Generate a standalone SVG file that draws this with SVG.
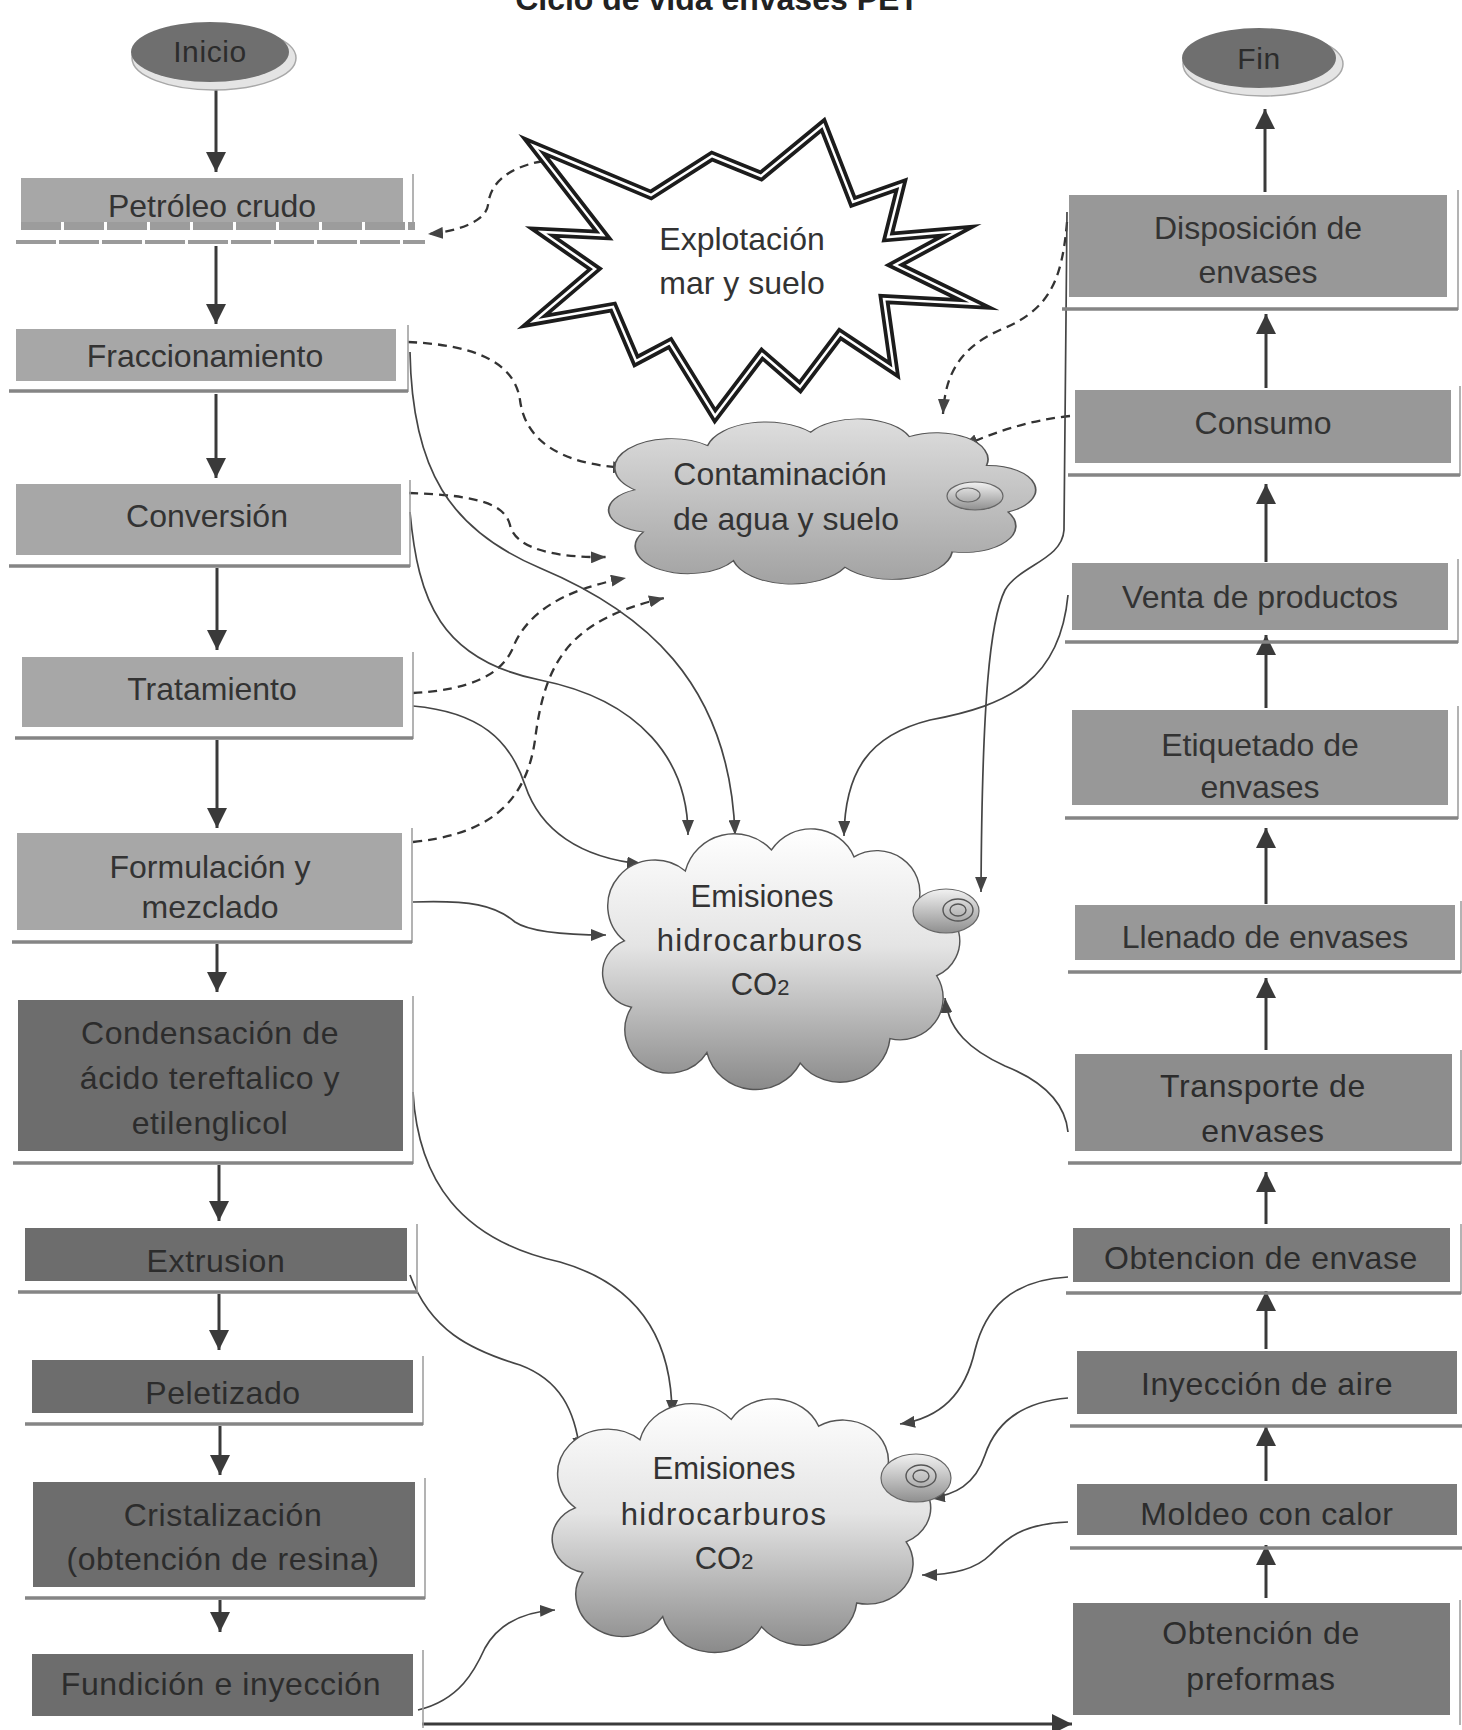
<svg xmlns="http://www.w3.org/2000/svg" xmlns:xlink="http://www.w3.org/1999/xlink" width="1462" height="1730" viewBox="0 0 1462 1730">
<style>
.t{font-family:"Liberation Sans",Arial,sans-serif;font-size:32px;fill:#333;text-anchor:middle}
.tk{font-family:"Liberation Sans",Arial,sans-serif;font-size:32px;fill:#2c2c2c;text-anchor:middle;letter-spacing:0.6px}
.bl{fill:#a7a7a7}
.bd{fill:#6d6d6d}
.bm{fill:#989898}
.br{fill:#7b7b7b}
.shb{stroke:#858585;stroke-width:3.5;fill:none}
.shv{stroke:#a0a0a0;stroke-width:1.6;fill:none}
.arr{stroke:#3a3a3a;stroke-width:3;fill:none}
.cs{stroke:#454545;stroke-width:1.7;fill:none}
.cd{stroke:#333;stroke-width:2.3;fill:none;stroke-dasharray:9 6}
</style>
<defs>
<marker id="big" viewBox="0 0 20 20" refX="20" refY="10" markerWidth="20" markerHeight="20" markerUnits="userSpaceOnUse" orient="auto"><path d="M0,0 L20,10 L0,20 z" fill="#3a3a3a"/></marker>
<marker id="sm" viewBox="0 0 15 12" refX="15" refY="6" markerWidth="15" markerHeight="12" markerUnits="userSpaceOnUse" orient="auto"><path d="M0,0 L15,6 L0,12 z" fill="#444"/></marker>
<linearGradient id="gEm" x1="0" y1="0" x2="0" y2="1"><stop offset="0" stop-color="#ffffff"/><stop offset="0.45" stop-color="#e4e4e4"/><stop offset="1" stop-color="#8a8a8a"/></linearGradient>
<linearGradient id="gCo" x1="0" y1="0" x2="0" y2="1"><stop offset="0" stop-color="#dedede"/><stop offset="1" stop-color="#a2a2a2"/></linearGradient>
<linearGradient id="gBub" x1="0" y1="0" x2="0" y2="1"><stop offset="0" stop-color="#f2f2f2"/><stop offset="1" stop-color="#8f8f8f"/></linearGradient>
<path id="cloud" d="M14,62 A24,24 0 0 1 48,22 A28,28 0 0 1 96,10 A26,26 0 0 1 142,14 A24,24 0 0 1 178,40 A22,22 0 0 1 188,82 A24,24 0 0 1 162,118 A28,28 0 0 1 112,132 A28,28 0 0 1 60,126 A24,24 0 0 1 18,100 A20,20 0 0 1 14,62 Z"/>
</defs>
<rect width="1462" height="1730" fill="#ffffff"/>
<text x="717" y="10" class="t" style="font-weight:bold;font-size:32px;fill:#222">Ciclo de vida envases PET</text>

<g id="connectors">
<line class="arr" x1="216" y1="88" x2="216" y2="172" marker-end="url(#big)"/>
<line class="arr" x1="216" y1="246" x2="216" y2="324" marker-end="url(#big)"/>
<line class="arr" x1="216" y1="394" x2="216" y2="478" marker-end="url(#big)"/>
<line class="arr" x1="217" y1="568" x2="217" y2="650" marker-end="url(#big)"/>
<line class="arr" x1="217" y1="740" x2="217" y2="828" marker-end="url(#big)"/>
<line class="arr" x1="217" y1="944" x2="217" y2="992" marker-end="url(#big)"/>
<line class="arr" x1="219" y1="1165" x2="219" y2="1221" marker-end="url(#big)"/>
<line class="arr" x1="219" y1="1294" x2="219" y2="1350" marker-end="url(#big)"/>
<line class="arr" x1="220" y1="1426" x2="220" y2="1475" marker-end="url(#big)"/>
<line class="arr" x1="220" y1="1600" x2="220" y2="1632" marker-end="url(#big)"/>
<line class="arr" x1="1266" y1="1598" x2="1266" y2="1545" marker-end="url(#big)"/>
<line class="arr" x1="1266" y1="1481" x2="1266" y2="1426" marker-end="url(#big)"/>
<line class="arr" x1="1266" y1="1349" x2="1266" y2="1291" marker-end="url(#big)"/>
<line class="arr" x1="1266" y1="1224" x2="1266" y2="1172" marker-end="url(#big)"/>
<line class="arr" x1="1266" y1="1050" x2="1266" y2="978" marker-end="url(#big)"/>
<line class="arr" x1="1266" y1="904" x2="1266" y2="828" marker-end="url(#big)"/>
<line class="arr" x1="1266" y1="708" x2="1266" y2="635" marker-end="url(#big)"/>
<line class="arr" x1="1266" y1="562" x2="1266" y2="484" marker-end="url(#big)"/>
<line class="arr" x1="1266" y1="388" x2="1266" y2="314" marker-end="url(#big)"/>
<line class="arr" x1="1265" y1="192" x2="1265" y2="109" marker-end="url(#big)"/>
<line class="arr" x1="422" y1="1724" x2="1072" y2="1724" marker-end="url(#big)"/>

<path class="cd" d="M 543 161 C 505 168, 490 185, 488 205 C 486 222, 455 232, 428 234" marker-end="url(#sm)"/>
<path class="cd" d="M 408 342 C 480 345, 515 365, 520 400 C 525 440, 560 465, 628 468" marker-end="url(#sm)"/>
<path class="cd" d="M 409 493 C 480 495, 505 505, 510 525 C 515 550, 560 558, 606 557" marker-end="url(#sm)"/>
<path class="cd" d="M 413 693 C 470 690, 500 675, 512 650 C 525 615, 560 590, 626 578" marker-end="url(#sm)"/>
<path class="cd" d="M 413 842 C 480 835, 525 810, 535 740 C 545 660, 570 620, 664 598" marker-end="url(#sm)"/>
<path class="cd" d="M 1067 222 C 1062 280, 1050 310, 1000 330 C 955 350, 945 380, 943 414" marker-end="url(#sm)"/>
<path class="cd" d="M 1070 416 C 1030 420, 995 432, 963 446" marker-end="url(#sm)"/>

<path class="cs" d="M 410 352 C 412 470, 450 530, 540 568 C 640 610, 730 680, 735 835" marker-end="url(#sm)"/>
<path class="cs" d="M 410 512 C 418 600, 440 660, 540 680 C 640 700, 688 760, 688 835" marker-end="url(#sm)"/>
<path class="cs" d="M 413 706 C 480 712, 510 740, 525 785 C 540 830, 580 858, 642 864" marker-end="url(#sm)"/>
<path class="cs" d="M 413 902 C 470 900, 495 905, 515 922 C 530 932, 570 935, 606 935" marker-end="url(#sm)"/>
<path class="cs" d="M 1067 212 L 1064 530 C 1062 560, 1020 565, 1005 590 C 990 620, 982 700, 981 892" marker-end="url(#sm)"/>
<path class="cs" d="M 1068 595 C 1060 680, 1010 705, 930 720 C 870 735, 845 770, 844 836" marker-end="url(#sm)"/>
<path class="cs" d="M 1068 1132 C 1065 1100, 1040 1080, 1005 1066 C 970 1050, 948 1030, 945 998" marker-end="url(#sm)"/>
<path class="cs" d="M 413 1092 C 418 1180, 460 1240, 560 1262 C 640 1285, 672 1340, 672 1415" marker-end="url(#sm)"/>
<path class="cs" d="M 410 1275 C 430 1330, 470 1350, 520 1365 C 560 1380, 575 1410, 580 1452" marker-end="url(#sm)"/>
<path class="cs" d="M 418 1710 C 460 1700, 475 1670, 485 1648 C 498 1625, 520 1612, 555 1610" marker-end="url(#sm)"/>
<path class="cs" d="M 1068 1277 C 1010 1280, 985 1310, 975 1350 C 965 1395, 940 1418, 900 1424" marker-end="url(#sm)"/>
<path class="cs" d="M 1068 1398 C 1020 1402, 995 1425, 985 1455 C 975 1485, 955 1495, 930 1498" marker-end="url(#sm)"/>
<path class="cs" d="M 1068 1522 C 1020 1524, 1005 1540, 990 1555 C 975 1570, 950 1575, 922 1575" marker-end="url(#sm)"/>
</g>

<g id="inicio">
<ellipse cx="214" cy="58" rx="82" ry="32" fill="#e4e4e4" stroke="#a8a8a8" stroke-width="1.5"/>
<ellipse cx="210" cy="52" rx="79" ry="30" fill="#6f6f6f"/>
<text x="210" y="62" class="tk" style="font-size:30px">Inicio</text>
</g>
<g id="fin">
<ellipse cx="1263" cy="64" rx="80" ry="32" fill="#e4e4e4" stroke="#a8a8a8" stroke-width="1.5"/>
<ellipse cx="1259" cy="58" rx="77" ry="30" fill="#6f6f6f"/>
<text x="1259" y="69" class="tk" style="font-size:30px">Fin</text>
</g>

<g id="petroleo">
<line class="shv" x1="413" y1="174" x2="413" y2="230"/>
<rect class="bl" x="21" y="178" width="382" height="44"/>
<line x1="21" y1="226" x2="415" y2="226" stroke="#9c9c9c" stroke-width="8" stroke-dasharray="40 3"/>
<line x1="16" y1="242" x2="425" y2="242" stroke="#9a9a9a" stroke-width="4" stroke-dasharray="40 3"/>
<text x="212" y="217" class="t">Petróleo crudo</text>
</g>
<g id="fraccionamiento">
<line class="shv" x1="408" y1="325" x2="408" y2="392"/>
<line class="shb" x1="9" y1="391" x2="408" y2="391"/>
<rect class="bl" x="16" y="329" width="380" height="52"/>
<text x="205" y="367" class="t">Fraccionamiento</text>
</g>
<g id="conversion">
<line class="shv" x1="410" y1="480" x2="410" y2="567"/>
<line class="shb" x1="9" y1="566" x2="410" y2="566"/>
<rect class="bl" x="16" y="484" width="385" height="71"/>
<text x="207" y="527" class="t">Conversión</text>
</g>
<g id="tratamiento">
<line class="shv" x1="413" y1="652" x2="413" y2="739"/>
<line class="shb" x1="15" y1="738" x2="413" y2="738"/>
<rect class="bl" x="22" y="657" width="381" height="70"/>
<text x="212" y="700" class="t">Tratamiento</text>
</g>
<g id="formulacion">
<line class="shv" x1="412" y1="828" x2="412" y2="943"/>
<line class="shb" x1="12" y1="942" x2="412" y2="942"/>
<rect class="bl" x="17" y="833" width="385" height="97"/>
<text x="210" y="878" class="t">Formulación y</text>
<text x="210" y="918" class="t">mezclado</text>
</g>
<g id="condensacion">
<line class="shv" x1="413" y1="996" x2="413" y2="1164"/>
<line class="shb" x1="13" y1="1163" x2="413" y2="1163"/>
<rect class="bd" x="18" y="1000" width="385" height="151"/>
<text x="210" y="1044" class="tk">Condensación de</text>
<text x="210" y="1089" class="tk">ácido tereftalico y</text>
<text x="210" y="1134" class="tk">etilenglicol</text>
</g>
<g id="extrusion">
<line class="shv" x1="417" y1="1224" x2="417" y2="1293"/>
<line class="shb" x1="18" y1="1292" x2="417" y2="1292"/>
<rect class="bd" x="25" y="1228" width="382" height="53"/>
<text x="216" y="1272" class="tk">Extrusion</text>
</g>
<g id="peletizado">
<line class="shv" x1="423" y1="1356" x2="423" y2="1425"/>
<line class="shb" x1="25" y1="1424" x2="423" y2="1424"/>
<rect class="bd" x="32" y="1360" width="381" height="53"/>
<text x="223" y="1404" class="tk">Peletizado</text>
</g>
<g id="cristalizacion">
<line class="shv" x1="425" y1="1478" x2="425" y2="1599"/>
<line class="shb" x1="25" y1="1598" x2="425" y2="1598"/>
<rect class="bd" x="33" y="1482" width="382" height="105"/>
<text x="223" y="1526" class="tk">Cristalización</text>
<text x="223" y="1570" class="tk">(obtención de resina)</text>
</g>
<g id="fundicion">
<line class="shv" x1="423" y1="1650" x2="423" y2="1728"/>
<rect class="bd" x="32" y="1654" width="381" height="62"/>
<text x="221" y="1695" class="tk">Fundición e inyección</text>
</g>

<g id="disposicion">
<line class="shv" x1="1458" y1="190" x2="1458" y2="310"/>
<line class="shb" x1="1062" y1="309" x2="1458" y2="309"/>
<rect class="bm" x="1069" y="195" width="378" height="102"/>
<text x="1258" y="239" class="t">Disposición de</text>
<text x="1258" y="283" class="t">envases</text>
</g>
<g id="consumo">
<line class="shv" x1="1460" y1="386" x2="1460" y2="476"/>
<line class="shb" x1="1068" y1="475" x2="1460" y2="475"/>
<rect class="bm" x="1075" y="390" width="376" height="73"/>
<text x="1263" y="434" class="t">Consumo</text>
</g>
<g id="venta">
<line class="shv" x1="1458" y1="559" x2="1458" y2="643"/>
<line class="shb" x1="1065" y1="642" x2="1458" y2="642"/>
<rect class="bm" x="1072" y="563" width="376" height="67"/>
<text x="1260" y="608" class="t">Venta de productos</text>
</g>
<g id="etiquetado">
<line class="shv" x1="1458" y1="706" x2="1458" y2="819"/>
<line class="shb" x1="1065" y1="818" x2="1458" y2="818"/>
<rect class="bm" x="1072" y="710" width="376" height="95"/>
<text x="1260" y="756" class="t">Etiquetado de</text>
<text x="1260" y="798" class="t">envases</text>
</g>
<g id="llenado">
<line class="shv" x1="1461" y1="901" x2="1461" y2="973"/>
<line class="shb" x1="1068" y1="972" x2="1461" y2="972"/>
<rect class="bm" x="1075" y="905" width="380" height="55"/>
<text x="1265" y="948" class="t">Llenado de envases</text>
</g>
<g id="transporte">
<line class="shv" x1="1461" y1="1050" x2="1461" y2="1164"/>
<line class="shb" x1="1068" y1="1163" x2="1461" y2="1163"/>
<rect x="1075" y="1054" width="377" height="97" fill="#8d8d8d"/>
<text x="1263" y="1097" class="tk">Transporte de</text>
<text x="1263" y="1142" class="tk">envases</text>
</g>
<g id="obtencion-envase">
<line class="shv" x1="1461" y1="1224" x2="1461" y2="1294"/>
<line class="shb" x1="1066" y1="1293" x2="1461" y2="1293"/>
<rect class="br" x="1073" y="1228" width="377" height="54"/>
<text x="1261" y="1269" class="tk">Obtencion de envase</text>
</g>
<g id="inyeccion-aire">
<line class="shb" x1="1070" y1="1426" x2="1462" y2="1426"/>
<rect class="br" x="1077" y="1351" width="380" height="63"/>
<text x="1267" y="1395" class="tk">Inyección de aire</text>
</g>
<g id="moldeo">
<line class="shb" x1="1070" y1="1548" x2="1462" y2="1548"/>
<rect class="br" x="1077" y="1484" width="380" height="51"/>
<text x="1267" y="1525" class="tk">Moldeo con calor</text>
</g>
<g id="preformas">
<line class="shv" x1="1460" y1="1600" x2="1460" y2="1725"/>
<rect class="br" x="1073" y="1603" width="377" height="112"/>
<text x="1261" y="1644" class="tk">Obtención de</text>
<text x="1261" y="1690" class="tk">preformas</text>
</g>

<g id="explotacion">
<path d="M534,146 L651,195 L712,156 L761,176 L823,125 L853,202 L901,185 L888,237 L958,231 L895,265 L975,304 L884,299 L894,370 L840,334 L800,387 L762,354 L715,416 L670,343 L636,361 L613,307 L534,321 L595,269 L542,232 L603,235 Z" fill="#ffffff" stroke="#1c1c1c" stroke-width="10" stroke-linejoin="miter" stroke-miterlimit="12"/>
<path d="M534,146 L651,195 L712,156 L761,176 L823,125 L853,202 L901,185 L888,237 L958,231 L895,265 L975,304 L884,299 L894,370 L840,334 L800,387 L762,354 L715,416 L670,343 L636,361 L613,307 L534,321 L595,269 L542,232 L603,235 Z" fill="none" stroke="#ffffff" stroke-width="2.5" stroke-linejoin="miter" stroke-miterlimit="12"/>
<text x="742" y="250" class="t">Explotación</text>
<text x="742" y="294" class="t">mar y suelo</text>
</g>

<g id="contaminacion">
<use xlink:href="#cloud" transform="translate(604.6,421.2) scale(2.146,1.107)" fill="url(#gCo)" stroke="#555" stroke-width="0.8"/>
<ellipse cx="975" cy="496" rx="28" ry="14" fill="url(#gBub)" stroke="#666" stroke-width="1.2"/>
<ellipse cx="968" cy="495" rx="12" ry="7" fill="none" stroke="#666" stroke-width="1.2"/>
<text x="780" y="485" class="t">Contaminación</text>
<text x="786" y="530" class="t">de agua y suelo</text>
</g>

<g id="emisiones1">
<use xlink:href="#cloud" transform="translate(599.2,832.5) scale(1.795,1.747)" fill="url(#gEm)" stroke="#555" stroke-width="0.8"/>
<ellipse cx="946" cy="911" rx="33" ry="22" fill="url(#gBub)" stroke="#666" stroke-width="1.2"/>
<ellipse cx="958" cy="910" rx="15" ry="11" fill="none" stroke="#555" stroke-width="1.4"/>
<ellipse cx="958" cy="910" rx="8" ry="6" fill="none" stroke="#555" stroke-width="1.4"/>
<text x="762" y="907" class="t" style="font-size:31px">Emisiones</text>
<text x="760" y="951" class="t" style="font-size:31px;letter-spacing:1.3px">hidrocarburos</text>
<text x="760" y="995" class="t" style="font-size:31px">CO<tspan style="font-size:22px">2</tspan></text>
</g>

<g id="emisiones2">
<use xlink:href="#cloud" transform="translate(548.6,1402.4) scale(1.902,1.7)" fill="url(#gEm)" stroke="#555" stroke-width="0.8"/>
<ellipse cx="916" cy="1478" rx="35" ry="24" fill="url(#gBub)" stroke="#666" stroke-width="1.2"/>
<ellipse cx="921" cy="1476" rx="15" ry="11" fill="none" stroke="#555" stroke-width="1.4"/>
<ellipse cx="921" cy="1476" rx="8" ry="6" fill="none" stroke="#555" stroke-width="1.4"/>
<text x="724" y="1479" class="t" style="font-size:31px">Emisiones</text>
<text x="724" y="1525" class="t" style="font-size:31px;letter-spacing:1.3px">hidrocarburos</text>
<text x="724" y="1569" class="t" style="font-size:31px">CO<tspan style="font-size:22px">2</tspan></text>
</g>
</svg>
